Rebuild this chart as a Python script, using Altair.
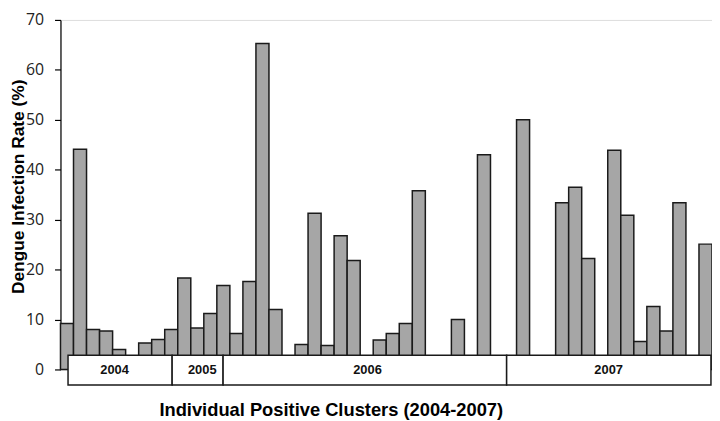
import altair as alt
import pandas as pd

# Infection rate per cluster slot (None = empty slot)
rates = [9.2, 44.1, 8.0, 7.7, 4.0, None, 5.3, 6.0, 8.0, 18.3,
         8.3, 11.2, 16.8, 7.2, 17.6, 65.3, 12.0, None, 5.0, 31.3,
         4.8, 26.8, 21.8, None, 5.9, 7.2, 9.2, 35.8, None, None,
         10.0, None, 43.0, None, None, 50.0, None, None, 33.4, 36.5,
         22.2, None, 43.9, 30.9, 5.6, 12.6, 7.7, 33.4, None, 25.1]

years = ["2004", "2005", "2006", "2007"]
year_start = [0.58, 8.57, 12.48, 34.24]
year_end = [8.57, 12.48, 34.24, 49.92]
year_label_pos = [4.15, 10.88, 23.56, 42.07]
box_bottom = -3.11
box_top = 2.84

bars = pd.DataFrame({
    "slot": list(range(len(rates))),
    "rate": rates,
})
bars = bars[bars["rate"].notna()].copy()
bars["slot2"] = bars["slot"] + 1

boxes = pd.DataFrame({
    "year": years,
    "start": year_start,
    "end": year_end,
    "pos": year_label_pos,
    "lo": [box_bottom] * 4,
    "hi": [box_top] * 4,
    "mid": [-0.1] * 4,
})

xscale = alt.Scale(domain=[0, 50], nice=False, zero=False)
yscale = alt.Scale(domain=[0, 70], nice=False)

bar_layer = alt.Chart(bars).mark_rect(
    fill="#a6a6a6", stroke="#1a1a1a", strokeWidth=1.5
).encode(
    x=alt.X("slot:Q", scale=xscale,
            axis=alt.Axis(title="Individual Positive Clusters (2004-2007)",
                          labels=False, ticks=False, domain=False, grid=False,
                          titleFont="Liberation Sans", titleFontSize=18.5,
                          titleFontWeight="bold", titleColor="#000000",
                          titleX=273, titleY=46, titleBaseline="alphabetic",
                          titleAlign="center")),
    x2="slot2:Q",
    y=alt.Y("rate:Q", scale=yscale,
            axis=alt.Axis(title="Dengue Infection Rate (%)",
                          values=[0, 10, 20, 30, 40, 50, 60, 70],
                          grid=False, domainColor="#000000", domainWidth=1.2,
                          tickColor="#000000", tickSize=6, tickWidth=1.2,
                          labelFont="Open Sans", labelFontSize=16,
                          labelColor="#222222", labelPadding=11,
                          titleFont="Liberation Sans", titleFontSize=17.5,
                          titleFontWeight="bold", titleColor="#000000",
                          titleAngle=270, titleX=-37, titleY=168,
                          titleBaseline="alphabetic", titleAlign="center")),
    y2=alt.datum(0),
)

box_layer = alt.Chart(boxes).mark_rect(
    fill="white", stroke="#1a1a1a", strokeWidth=1.5
).encode(
    x=alt.X("start:Q", scale=xscale),
    x2="end:Q",
    y=alt.Y("lo:Q", scale=yscale),
    y2="hi:Q",
)

text_layer = alt.Chart(boxes).mark_text(
    font="Liberation Sans", fontSize=13, fontWeight="bold",
    color="#111111", baseline="middle", align="center"
).encode(
    x=alt.X("pos:Q", scale=xscale),
    y=alt.Y("mid:Q", scale=yscale),
    text="year:N",
)

chart = alt.layer(bar_layer, box_layer, text_layer).properties(
    width=658, height=353,
    padding={"left": 53, "top": 10, "right": 0, "bottom": 50},
    autosize=alt.AutoSizeParams(type="none"),
).configure_view(stroke=None).configure(background="white")

chart.save("out.html", embed_options={"renderer": "svg", "actions": False})
